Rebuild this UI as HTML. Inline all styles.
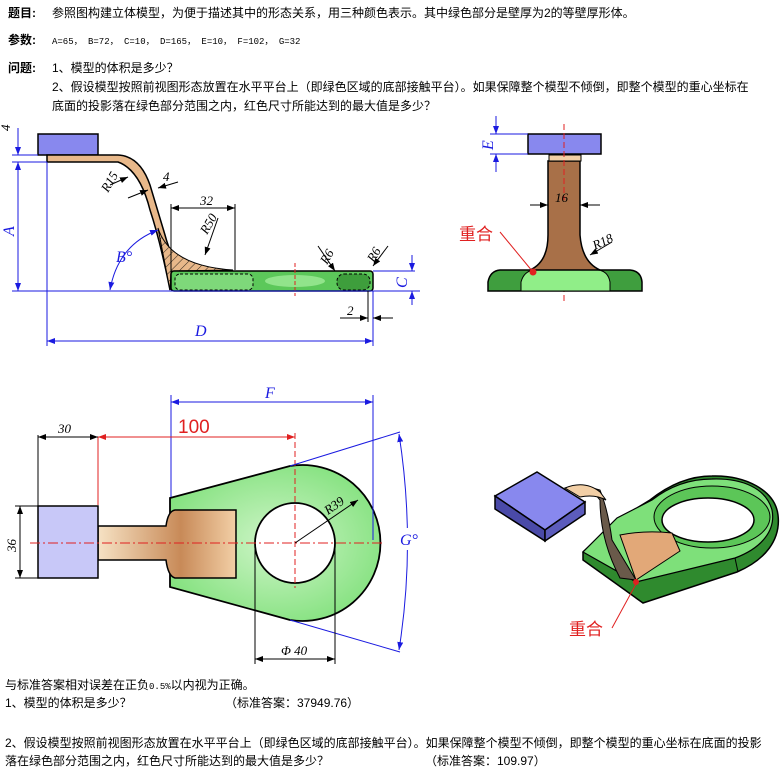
<!DOCTYPE html>
<html><head><meta charset="utf-8"><style>
body{margin:0;background:#fff;width:780px;height:780px;overflow:hidden}
svg{display:block}
.t{font-family:"Liberation Sans","Noto Sans CJK SC",sans-serif;font-size:12px;fill:#000}
.s{font-family:"Liberation Mono","Noto Sans CJK SC",monospace;font-size:9px;fill:#000}
.d{font-family:"Liberation Serif",serif;font-style:italic;font-size:13px;fill:#000}
.b{font-family:"Liberation Serif",serif;font-style:italic;font-size:16px;fill:#1a1ae0}
</style></head><body>
<svg width="780" height="780" viewBox="0 0 780 780" xmlns="http://www.w3.org/2000/svg">
<defs>
<marker id="a" markerWidth="8" markerHeight="6" refX="8" refY="3" orient="auto-start-reverse"><path d="M0,0L8,3L0,6z" fill="#000"/></marker>
<marker id="ab" markerWidth="8" markerHeight="6" refX="8" refY="3" orient="auto-start-reverse"><path d="M0,0L8,3L0,6z" fill="#1a1ae0"/></marker>
<marker id="ar" markerWidth="8" markerHeight="6" refX="8" refY="3" orient="auto-start-reverse"><path d="M0,0L8,3L0,6z" fill="#e02020"/></marker>
<pattern id="h" width="6" height="6" patternUnits="userSpaceOnUse" patternTransform="rotate(45)"><rect width="6" height="6" fill="#e8b88a"/><line x1="0" y1="0" x2="0" y2="6" stroke="#000" stroke-width="0.8"/></pattern>
<radialGradient id="g" cx="50%" cy="50%" r="60%"><stop offset="0" stop-color="#cff5c8"/><stop offset="1" stop-color="#7fe07a"/></radialGradient>
<linearGradient id="tan" x1="0" x2="1"><stop offset="0" stop-color="#f6e2c4"/><stop offset="0.6" stop-color="#c88a58"/><stop offset="1" stop-color="#f2cfa6"/></linearGradient>
</defs>

<text x="8" y="17" class="t" font-weight="bold">题目:</text>
<text x="52" y="17" class="t">参照图构建立体模型，为便于描述其中的形态关系，用三种颜色表示。其中绿色部分是壁厚为2的等壁厚形体。</text>
<text x="8" y="44" class="t" font-weight="bold">参数:</text>
<text x="52" y="44" class="s">A=65， B=72， C=10， D=165， E=10， F=102， G=32</text>
<text x="8" y="72" class="t" font-weight="bold">问题:</text>
<text x="52" y="72" class="t">1、模型的体积是多少？</text>
<text x="52" y="91" class="t">2、假设模型按照前视图形态放置在水平平台上（即绿色区域的底部接触平台）。如果保障整个模型不倾倒，即整个模型的重心坐标在</text>
<text x="52" y="110" class="t">底面的投影落在绿色部分范围之内，红色尺寸所能达到的最大值是多少？</text>

<!-- FRONT VIEW -->
<rect x="38" y="134" width="60" height="21" fill="#8888ee" stroke="#000" stroke-width="1.5"/>
<path d="M47,155 L118,155 Q140,156 150,185 L165,235 Q172,262 185,268 L172,271 L170,290 Q160,240 150,210 Q140,170 118,162 L47,162 Z" fill="#e8b88a" stroke="#000" stroke-width="1.5"/>
<path d="M158,228 Q170,266 233,270 L171,271 L170,290 Z" fill="url(#h)" stroke="#000"/>
<rect x="171" y="271" width="202" height="20" rx="3" fill="#5cc85a" stroke="#000" stroke-width="1.5"/>
<rect x="175" y="274" width="78" height="16" rx="5" fill="#7ed87a" stroke="#000" stroke-dasharray="3,2"/>
<rect x="337" y="274" width="33" height="16" rx="7" fill="#3e9e3c" stroke="#000" stroke-dasharray="3,2"/>
<ellipse cx="295" cy="281" rx="30" ry="6" fill="#a8f0a0" opacity="0.7"/>
<line x1="295" y1="263" x2="295" y2="296" stroke="#e02020" stroke-dasharray="4,2"/>
<g stroke="#1a1ae0" fill="none">
<line x1="12" y1="155" x2="38" y2="155"/><line x1="12" y1="162" x2="47" y2="162"/>
<line x1="18" y1="128" x2="18" y2="155" marker-end="url(#ab)"/>
<line x1="18" y1="162" x2="18" y2="291" marker-start="url(#ab)" marker-end="url(#ab)"/>
<line x1="12" y1="291" x2="420" y2="291"/>
<line x1="47" y1="162" x2="47" y2="346"/>
<line x1="373" y1="291" x2="373" y2="346"/>
<line x1="47" y1="341" x2="373" y2="341" marker-start="url(#ab)" marker-end="url(#ab)"/>
<line x1="373" y1="271" x2="415" y2="271"/>
<line x1="412" y1="255" x2="412" y2="271" marker-end="url(#ab)"/>
<line x1="412" y1="291" x2="412" y2="305" marker-start="url(#ab)"/>
<path d="M110,290 Q118,245 158,230" marker-start="url(#ab)" marker-end="url(#ab)"/>
</g>
<text x="0" y="0" class="b" transform="translate(14,236) rotate(-90)">A</text>
<text x="4" y="0" class="d" transform="translate(10,135) rotate(-90)">4</text>
<text x="195" y="336" class="b">D</text>
<text x="116" y="262" class="b">B°</text>
<text x="0" y="0" class="b" transform="translate(407,288) rotate(-90)">C</text>
<g stroke="#000" fill="none">
<line x1="171" y1="271" x2="171" y2="204"/><line x1="235" y1="270" x2="235" y2="204"/>
<line x1="171" y1="208" x2="235" y2="208" marker-start="url(#a)" marker-end="url(#a)"/>
<line x1="218" y1="218" x2="205" y2="255" marker-end="url(#a)"/>
<line x1="110" y1="185" x2="128" y2="177" marker-end="url(#a)"/>
<line x1="128" y1="198" x2="148" y2="190" marker-end="url(#a)"/>
<line x1="178" y1="182" x2="158" y2="188" marker-end="url(#a)"/>
<line x1="318" y1="246" x2="335" y2="271" marker-end="url(#a)"/>
<line x1="388" y1="246" x2="373" y2="266" marker-end="url(#a)"/>
<line x1="368" y1="291" x2="368" y2="322"/>
<line x1="340" y1="318" x2="368" y2="318" marker-end="url(#a)"/>
<line x1="393" y1="318" x2="373" y2="318" marker-end="url(#a)"/>
</g>
<text x="200" y="205" class="d">32</text>
<text x="0" y="0" class="d" transform="translate(207,235) rotate(-60)">R50</text>
<text x="0" y="0" class="d" transform="translate(108,193) rotate(-60)">R15</text>
<text x="163" y="181" class="d">4</text>
<text x="0" y="0" class="d" transform="translate(327,265) rotate(-60)">R6</text>
<text x="0" y="0" class="d" transform="translate(374,263) rotate(-60)">R6</text>
<text x="347" y="315" class="d">2</text>

<!-- SIDE VIEW -->
<line x1="564" y1="124" x2="564" y2="302" stroke="#e02020" stroke-dasharray="6,3"/>
<path d="M488,291 L488,282 Q490,271 500,270 L630,270 Q641,271 642,282 L642,291 Z" fill="#3f9e3e" stroke="#000" stroke-width="1.5"/>
<path d="M521,291 L521,282 Q524,271 534,270 L598,270 Q608,271 610,282 L610,291 Z" fill="#90ee88" stroke="#000"/>
<path d="M548,161 L580,161 L580,235 Q582,262 600,270 L530,270 Q548,262 548,235 Z" fill="#a87048" stroke="#000" stroke-width="1.5"/>
<rect x="549" y="155" width="32" height="6" fill="#f2cfa6" stroke="#000"/>
<rect x="528" y="134" width="73" height="20" fill="#8888ee" stroke="#000" stroke-width="1.5"/>
<line x1="564" y1="124" x2="564" y2="200" stroke="#e02020" stroke-dasharray="6,3"/>
<g stroke="#1a1ae0" fill="none">
<line x1="490" y1="134" x2="528" y2="134"/><line x1="490" y1="154" x2="528" y2="154"/>
<line x1="496" y1="116" x2="496" y2="134" marker-end="url(#ab)"/>
<line x1="496" y1="172" x2="496" y2="154" marker-end="url(#ab)"/>
</g>
<text x="0" y="0" class="b" transform="translate(493,150) rotate(-90)">E</text>
<g stroke="#000" fill="none">
<line x1="530" y1="205" x2="548" y2="205" marker-end="url(#a)"/>
<line x1="600" y1="205" x2="580" y2="205" marker-end="url(#a)"/>
<line x1="612" y1="242" x2="590" y2="255" marker-end="url(#a)"/>
</g>
<text x="555" y="202" class="d">16</text>
<text x="0" y="0" class="d" transform="translate(595,250) rotate(-25)">R18</text>
<line x1="500" y1="232" x2="533" y2="272" stroke="#e02020"/>
<circle cx="533" cy="272" r="3.5" fill="#e02020"/>
<text x="459" y="240" class="t" style="font-size:17px;fill:#e02020">重合</text>

<!-- TOP VIEW -->
<path d="M170,498 L290,466 A78,78 0 1 1 290,620 L170,587 Z" fill="url(#g)" stroke="#000" stroke-width="1.8"/>
<circle cx="295" cy="543" r="40" fill="#fff" stroke="#000" stroke-width="1.8"/>
<path d="M98,526 L166,526 Q168,511 175,510 L236,510 L236,578 L175,578 Q168,576 166,560 L98,560 Z" fill="url(#tan)" stroke="#000" stroke-width="1.5"/>
<rect x="38" y="506" width="60" height="72" fill="#c8c8f8" stroke="#000" stroke-width="1.5"/>
<line x1="30" y1="543" x2="382" y2="543" stroke="#e02020" stroke-dasharray="10,3,2,3"/>
<line x1="295" y1="433" x2="295" y2="588" stroke="#e02020" stroke-dasharray="6,3"/>
<g stroke="#1a1ae0" fill="none">
<line x1="171" y1="395" x2="171" y2="497"/><line x1="373" y1="395" x2="373" y2="540"/>
<line x1="171" y1="402" x2="373" y2="402" marker-start="url(#ab)" marker-end="url(#ab)"/>
<line x1="290" y1="466" x2="400" y2="432"/><line x1="290" y1="620" x2="400" y2="652"/>
<path d="M399,434 Q416,543 399,650" marker-start="url(#ab)" marker-end="url(#ab)"/>
</g>
<rect x="398" y="528" width="24" height="22" fill="#fff"/>
<text x="400" y="545" class="b">G°</text>
<text x="265" y="398" class="b">F</text>
<g stroke="#e02020" fill="none">
<line x1="98" y1="437" x2="98" y2="505"/>
<line x1="98" y1="437" x2="295" y2="437" marker-start="url(#ar)" marker-end="url(#ar)"/>
</g>
<text x="178" y="433" style="font-family:'Liberation Sans',sans-serif;font-size:19px;fill:#e02020">100</text>
<g stroke="#000" fill="none">
<line x1="38" y1="435" x2="38" y2="506"/>
<line x1="38" y1="437" x2="98" y2="437" marker-start="url(#a)" marker-end="url(#a)"/>
<line x1="15" y1="506" x2="38" y2="506"/><line x1="15" y1="578" x2="38" y2="578"/>
<line x1="20" y1="506" x2="20" y2="578" marker-start="url(#a)" marker-end="url(#a)"/>
<line x1="255" y1="545" x2="255" y2="664"/><line x1="335" y1="545" x2="335" y2="664"/>
<line x1="255" y1="659" x2="335" y2="659" marker-start="url(#a)" marker-end="url(#a)"/>
<line x1="295" y1="543" x2="358" y2="500" marker-end="url(#a)"/>
</g>
<text x="58" y="433" class="d">30</text>
<text x="0" y="0" class="d" transform="translate(16,552) rotate(-90)">36</text>
<text x="281" y="655" class="d">Φ 40</text>
<text x="0" y="0" class="d" transform="translate(328,515) rotate(-35)">R39</text>

<!-- ISO VIEW -->
<path d="M583,552 L583,560 L643,603 L737,572 C765,560 781,540 778,515 C775,490 745,475 712,476 C690,476 670,484 650,500 L617,520 Z" fill="#2f8a2e" stroke="#000" stroke-width="1.5"/>
<path d="M583,552 L636,582 L735,558 C762,548 776,530 772,510 C766,488 742,478 712,479 C690,479 670,486 652,500 L617,518 Z" fill="#7ee07a" stroke="#000" stroke-width="1.2"/>
<ellipse cx="712" cy="517" rx="58" ry="31" fill="#5cc658" stroke="#000"/>
<ellipse cx="708" cy="520" rx="46" ry="22" fill="#fff" stroke="#000" stroke-width="1.5"/>
<line x1="735" y1="558" x2="738" y2="572" stroke="#000"/>
<path d="M620,535 Q645,530 672,533 L680,551 L636,580 Z" fill="#e2a878" stroke="#000"/>
<path d="M589,487 L600,490 Q608,510 612,540 L636,580 L620,578 Q600,540 600,500 Z" fill="#6a5a4a" stroke="#000"/>
<path d="M565,488 Q585,480 600,492 L606,500 Q595,494 580,497 Z" fill="#f2cfa6" stroke="#000"/>
<path d="M495,496 L537,472 L585,502 L545,530 Z" fill="#8888ee" stroke="#000" stroke-width="1.5"/>
<path d="M495,496 L545,530 L545,541 L495,509 Z" fill="#4a4aa8" stroke="#000" stroke-width="1.5"/>
<path d="M545,530 L585,502 L585,514 L545,541 Z" fill="#5c5cbc" stroke="#000" stroke-width="1.5"/>
<circle cx="636" cy="582" r="3" fill="#e02020"/>
<line x1="636" y1="584" x2="612" y2="628" stroke="#e02020"/>
<text x="569" y="635" class="t" style="font-size:17px;fill:#e02020">重合</text>

<text x="5" y="689" class="t">与标准答案相对误差在正负<tspan class="s">0.5%</tspan>以内视为正确。</text>
<text x="5" y="707" class="t">1、模型的体积是多少？</text>
<text x="225" y="707" class="t">（标准答案：37949.76）</text>
<text x="5" y="747" class="t">2、假设模型按照前视图形态放置在水平平台上（即绿色区域的底部接触平台）。如果保障整个模型不倾倒，即整个模型的重心坐标在底面的投影</text>
<text x="5" y="765" class="t">落在绿色部分范围之内，红色尺寸所能达到的最大值是多少？</text>
<text x="425" y="765" class="t">（标准答案：109.97）</text>
</svg>
</body></html>
